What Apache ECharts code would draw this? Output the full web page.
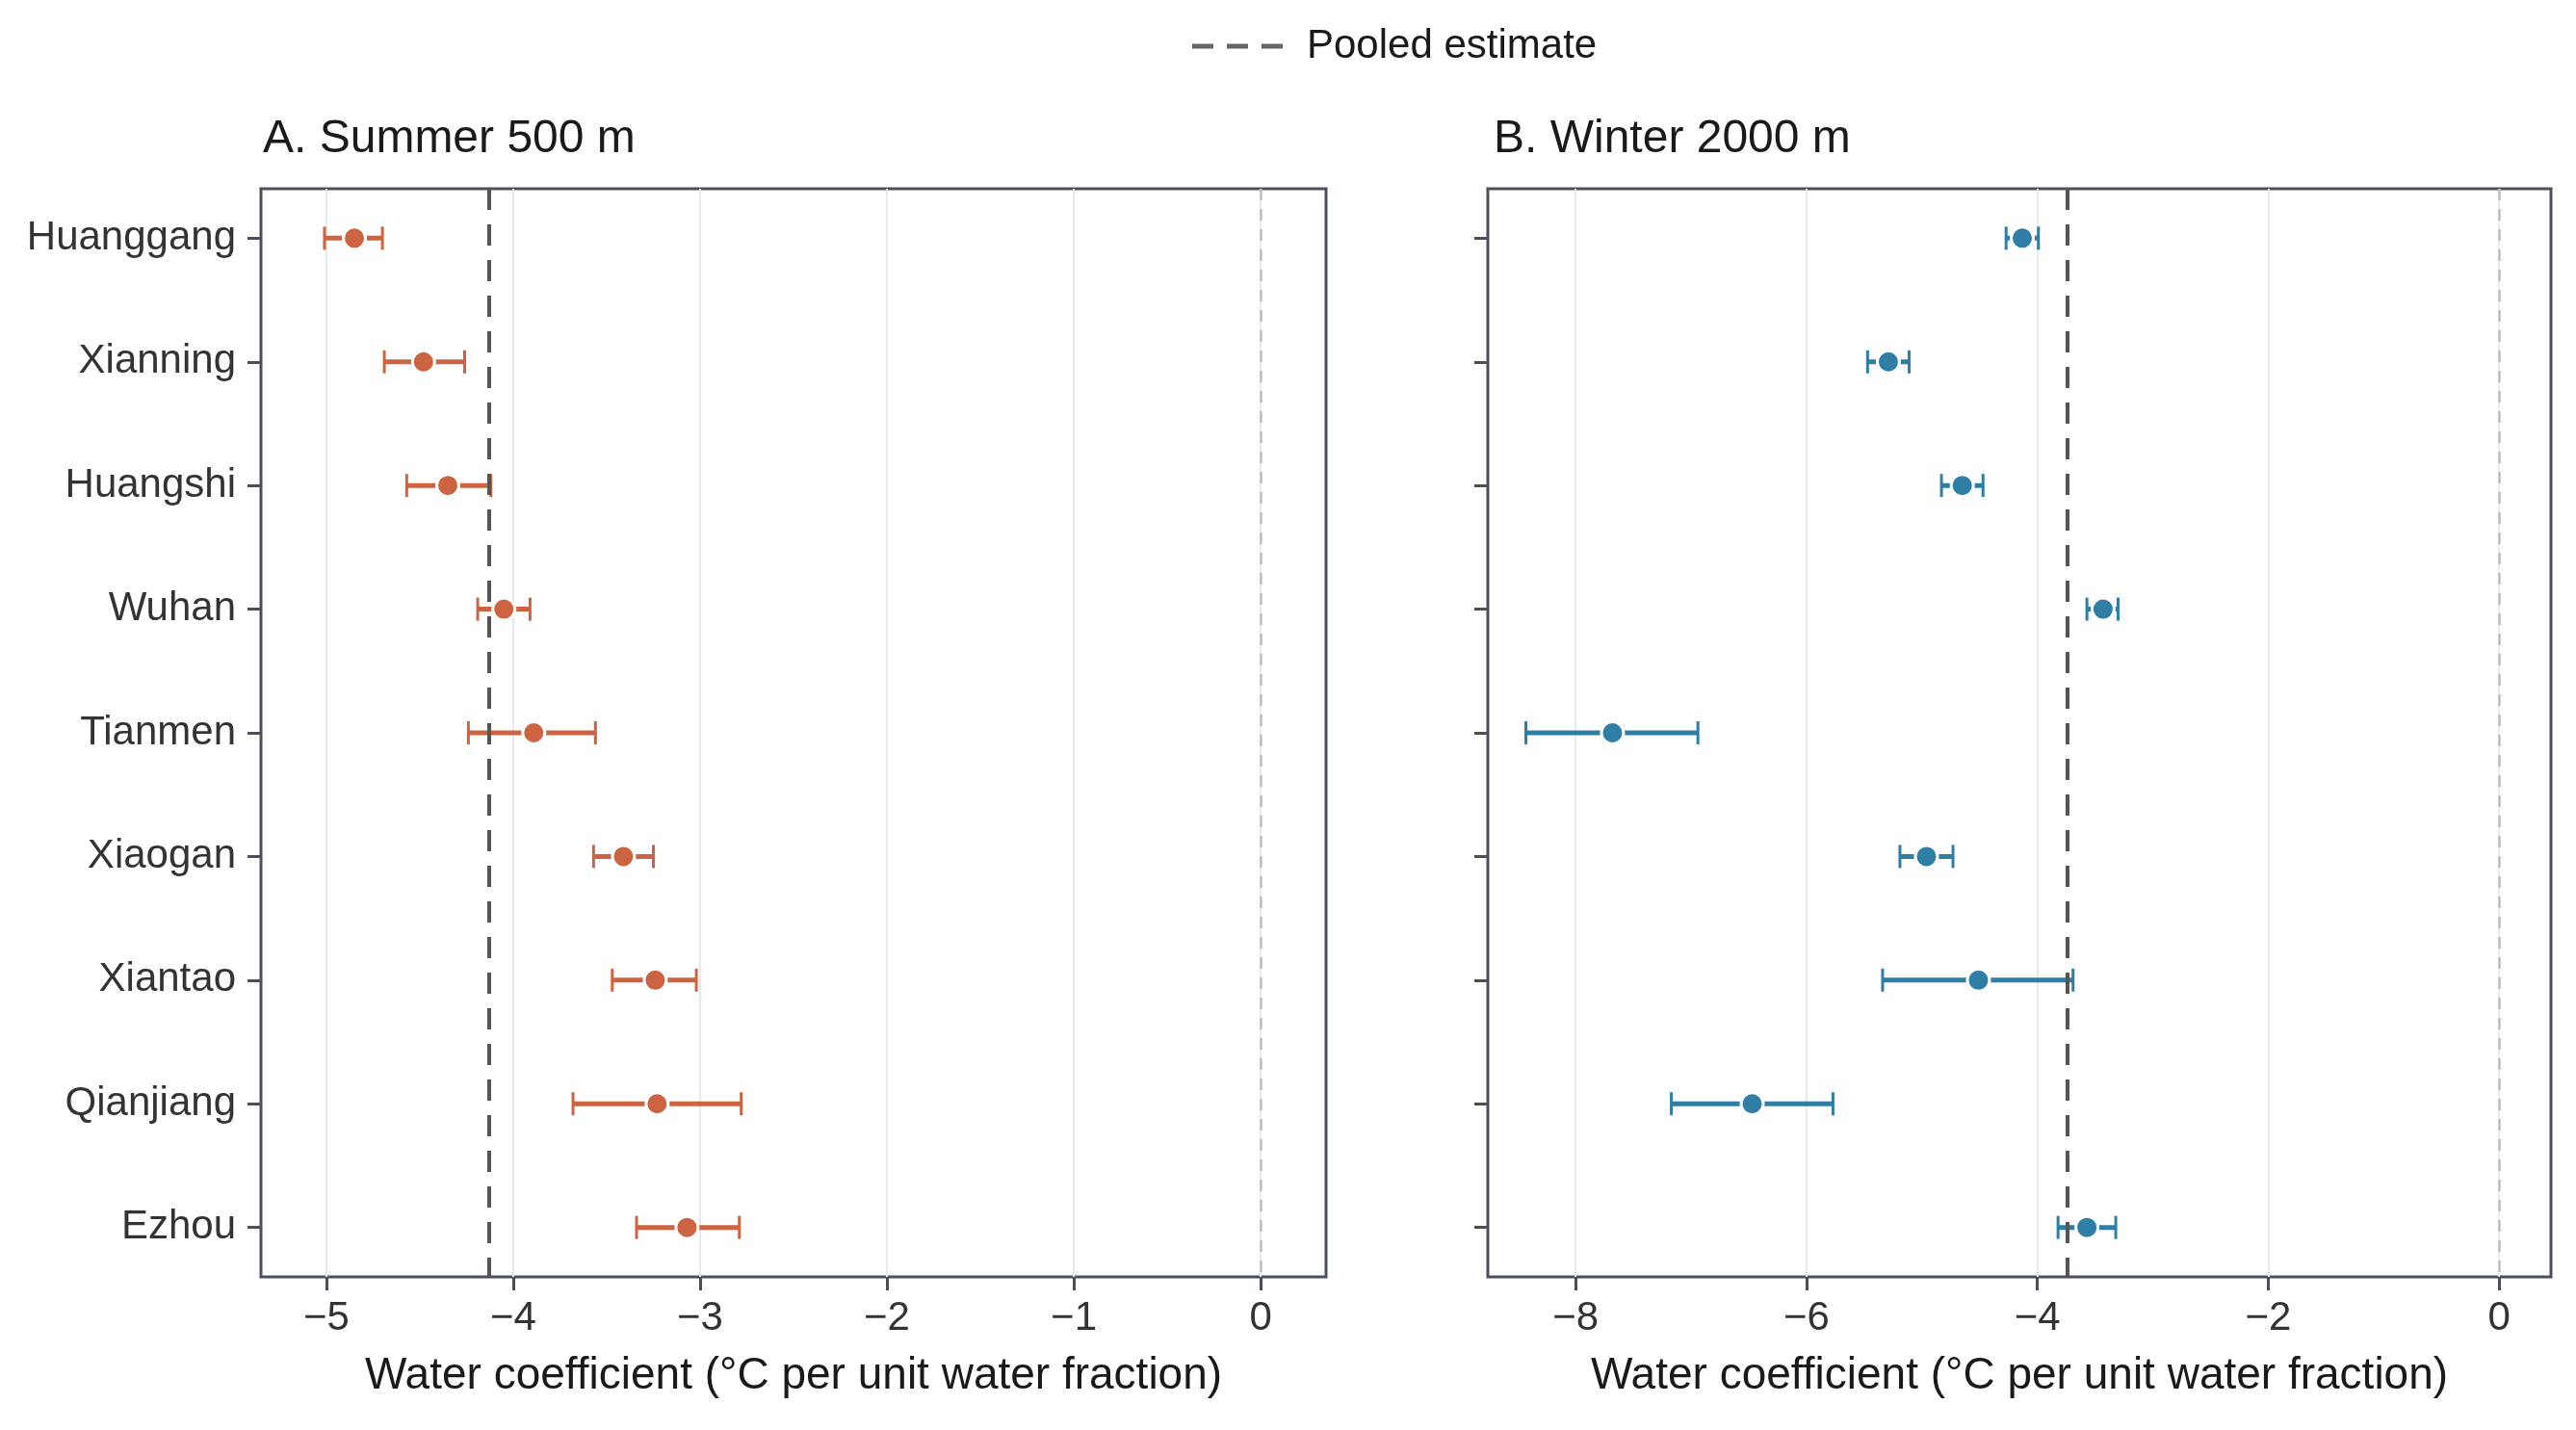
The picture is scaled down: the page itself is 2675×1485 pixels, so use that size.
<!DOCTYPE html>
<html>
<head>
<meta charset="utf-8">
<title>Water coefficient by city</title>
<script src="https://cdn.jsdelivr.net/npm/echarts@6/dist/echarts.min.js"></script>
<style>
  html, body { margin: 0; padding: 0; background: #fff; }
  #chart { width: 2675px; height: 1485px; }
</style>
</head>
<body>
<div id="chart"></div>
<script>
// cities, top to bottom
const cities = ['Huanggang', 'Xianning', 'Huangshi', 'Wuhan', 'Tianmen', 'Xiaogan', 'Xiantao', 'Qianjiang', 'Ezhou']

// A. Summer 500 m
const summerEst = [-4.85, -4.48, -4.35, -4.05, -3.89, -3.41, -3.24, -3.23, -3.07]
const summerLow = [-5.01, -4.69, -4.57, -4.19, -4.24, -3.57, -3.47, -3.68, -3.34]
const summerHigh = [-4.70, -4.26, -4.12, -3.91, -3.56, -3.25, -3.02, -2.78, -2.79]
const summerPooled = -4.13

// B. Winter 2000 m
const winterEst = [-4.13, -5.29, -4.65, -3.43, -7.68, -4.96, -4.51, -6.47, -3.57]
const winterLow = [-4.27, -5.47, -4.83, -3.57, -8.43, -5.19, -5.34, -7.17, -3.82]
const winterHigh = [-3.99, -5.11, -4.47, -3.30, -6.94, -4.73, -3.69, -5.77, -3.32]
const winterPooled = -3.74

const summerTicks = [-5, -4, -3, -2, -1, 0]
const winterTicks = [-8, -6, -4, -2, 0]

const orange = '#cd6441'
const blue = '#2e7ea6'
const frame = '#4b5058'
const font = 'Liberation Sans'

const chart = echarts.init(document.getElementById('chart'))

const fmtMinus = v => (v < 0 ? '\u2212' + Math.abs(v) : String(v))
const idx = cities.map((c, i) => i)

function xAxis(grid, min, max, ticks) {
  return {
    type: 'value', gridIndex: grid, min: min, max: max,
    name: 'Water coefficient (°C per unit water fraction)',
    nameLocation: 'middle', nameGap: 80,
    nameTextStyle: {fontFamily: font, fontSize: 46, color: '#1a1a1a'},
    axisLine: {show: false, onZero: false},
    axisTick: {show: true, customValues: ticks, length: 14, lineStyle: {color: frame, width: 3}},
    axisLabel: {customValues: ticks, formatter: fmtMinus, margin: 22,
      fontFamily: font, fontSize: 42, color: '#333'},
    splitLine: {show: true, lineStyle: {color: '#e6e9ee', width: 2}}
  }
}

function yAxis(grid, labels) {
  return {
    type: 'value', gridIndex: grid, min: -0.4, max: 8.4, inverse: true,
    axisLine: {show: false, onZero: false},
    axisTick: {show: true, customValues: idx, length: 14, lineStyle: {color: frame, width: 3}},
    axisLabel: {show: labels, customValues: idx, formatter: v => cities[v] || '', margin: 26,
      fontFamily: font, fontSize: 42, color: '#333'},
    splitLine: {show: false}
  }
}

function errorBars(k, low, high, color) {
  return {
    type: 'custom', xAxisIndex: k, yAxisIndex: k, silent: true,
    data: cities.map((c, i) => [low[i], high[i], i]),
    encode: {x: [0, 1], y: 2},
    renderItem: (params, api) => {
      const y = api.value(2)
      const a = api.coord([api.value(0), y])
      const b = api.coord([api.value(1), y])
      const cap = 12
      const style = {stroke: color, lineWidth: 5}
      const capStyle = {stroke: color, lineWidth: 3}
      return {
        type: 'group',
        children: [
          {type: 'line', shape: {x1: a[0], y1: a[1], x2: b[0], y2: b[1]}, style: style},
          {type: 'line', shape: {x1: a[0], y1: a[1] - cap, x2: a[0], y2: a[1] + cap}, style: capStyle},
          {type: 'line', shape: {x1: b[0], y1: b[1] - cap, x2: b[0], y2: b[1] + cap}, style: capStyle}
        ]
      }
    },
    z: 3
  }
}

function points(k, est, color, pooled) {
  return {
    type: 'scatter', xAxisIndex: k, yAxisIndex: k,
    data: est.map((v, i) => [v, i]),
    symbolSize: 23,
    itemStyle: {color: color, borderColor: '#fff', borderWidth: 3, opacity: 1},
    z: 4,
    markLine: {
      silent: true, symbol: 'none', label: {show: false},
      animation: false,
      data: [
        {xAxis: 0, lineStyle: {color: '#bdbdbd', width: 2.5, type: [12, 9]}},
        {xAxis: pooled, lineStyle: {color: '#555', width: 4, type: [22, 15]}}
      ]
    }
  }
}

const option = {
  backgroundColor: '#fff',
  animation: false,
  title: [
    {text: 'A. Summer 500 m', left: 268, top: 116,
      textStyle: {fontFamily: font, fontSize: 48, fontWeight: 'normal', color: '#1a1a1a'}},
    {text: 'B. Winter 2000 m', left: 1546, top: 116,
      textStyle: {fontFamily: font, fontSize: 48, fontWeight: 'normal', color: '#1a1a1a'}}
  ],
  legend: {
    data: [{name: 'Pooled estimate', icon: 'path://M0,0H22V5H0Z M36,0H58V5H36Z M72,0H94V5H72Z'}],
    left: 1233, top: 22,
    itemWidth: 94, itemHeight: 5,
    itemStyle: {color: '#666'},
    textStyle: {fontFamily: font, fontSize: 42, color: '#1a1a1a', padding: [0, 0, 0, 20]}
  },
  grid: [
    {left: 271, top: 196, width: 1106, height: 1130, show: true,
      borderColor: frame, borderWidth: 3, backgroundColor: 'transparent'},
    {left: 1545, top: 196, width: 1104, height: 1130, show: true,
      borderColor: frame, borderWidth: 3, backgroundColor: 'transparent'}
  ],
  xAxis: [xAxis(0, -5.35, 0.35, summerTicks), xAxis(1, -8.76, 0.45, winterTicks)],
  yAxis: [yAxis(0, true), yAxis(1, false)],
  series: [
    {
      name: 'Pooled estimate', type: 'line', xAxisIndex: 0, yAxisIndex: 0,
      data: [], symbol: 'none',
      lineStyle: {color: '#666', width: 4, type: [22, 14]},
      itemStyle: {color: '#666'}
    },
    errorBars(0, summerLow, summerHigh, orange),
    points(0, summerEst, orange, summerPooled),
    errorBars(1, winterLow, winterHigh, blue),
    points(1, winterEst, blue, winterPooled)
  ]
}

chart.setOption(option)
</script>
</body>
</html>
